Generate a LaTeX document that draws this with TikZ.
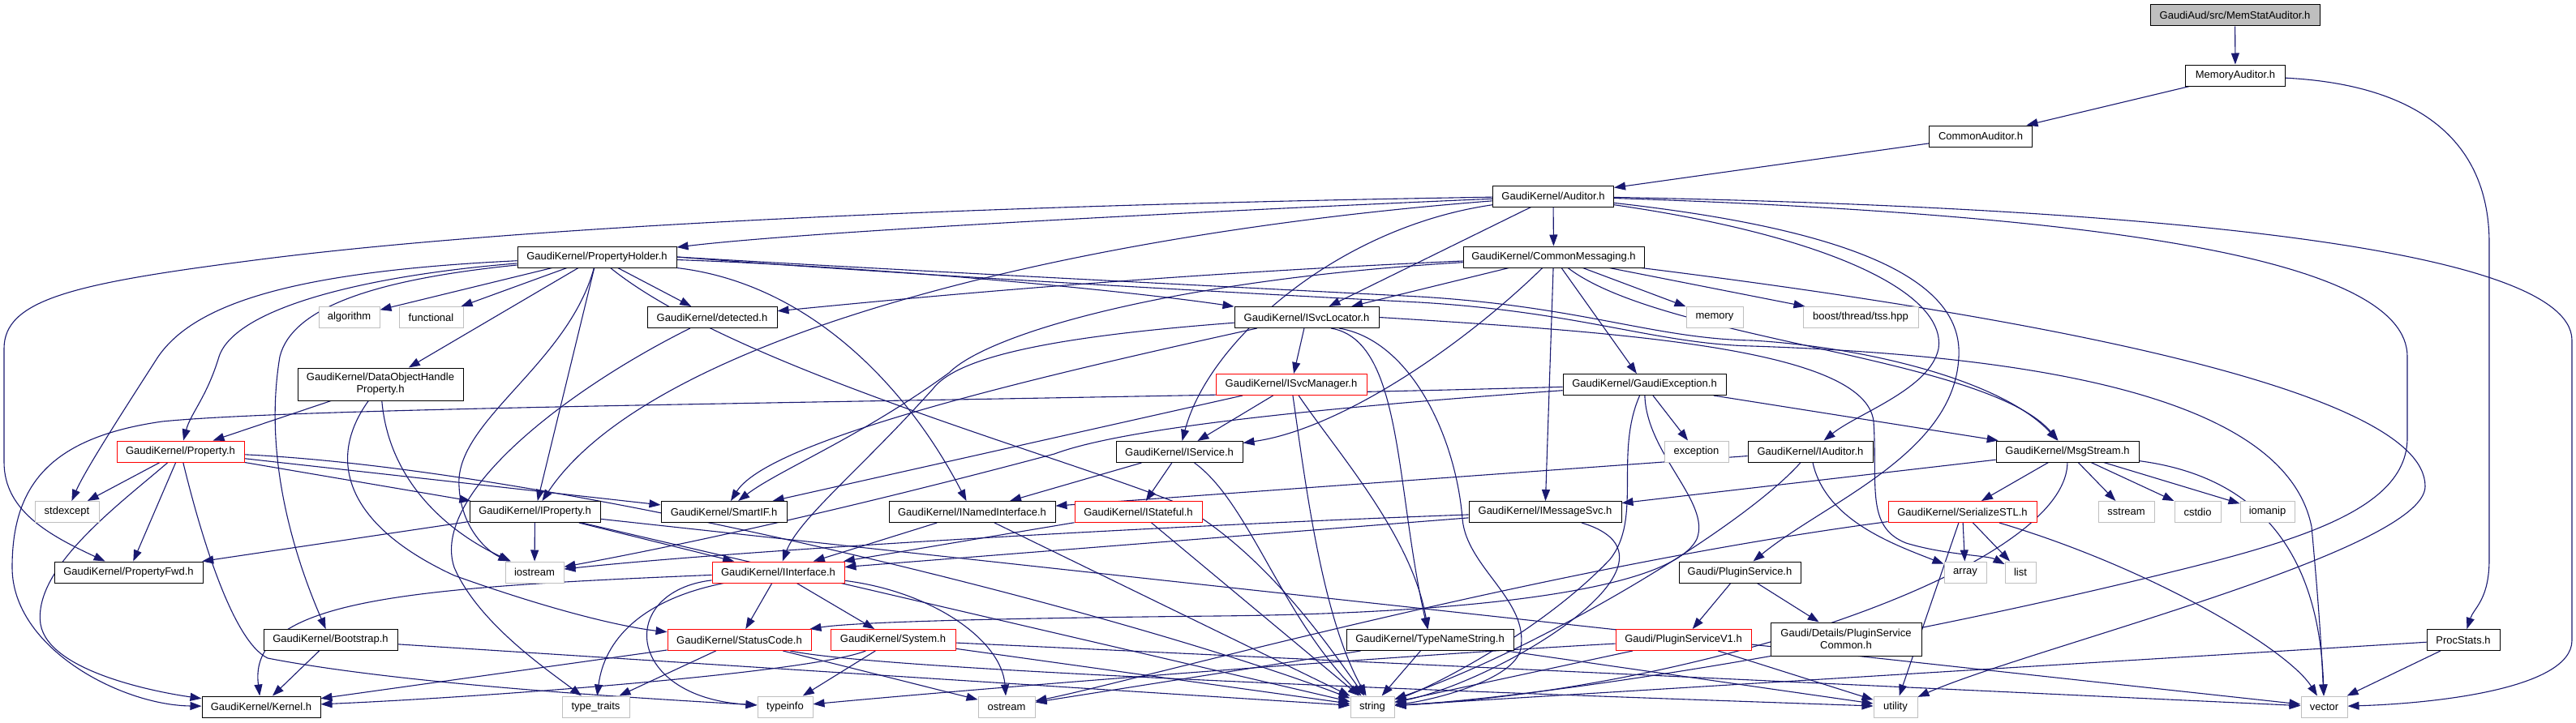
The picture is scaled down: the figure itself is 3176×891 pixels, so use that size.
\documentclass[tikz,border=0pt]{standalone}
\usepackage{fontspec}
\setmainfont{Liberation Sans}
\usetikzlibrary{arrows.meta,backgrounds}
\definecolor{edgec}{HTML}{191970}
\definecolor{graybd}{HTML}{BFBFBF}
\definecolor{redbd}{HTML}{FF0000}
\begin{document}
\begin{tikzpicture}[x=1pt,y=-1pt,
  font=\fontsize{13}{15}\selectfont,
  box/.style={line width=1pt, minimum height=26pt, inner xsep=3pt, inner ysep=2pt, align=center, fill=white},
  bbox/.style={box, draw=black},
  rbox/.style={box, draw=redbd},
  gbox/.style={box, draw=graybd},
  e/.style={draw=edgec, line width=1.1pt, -{Triangle[length=14pt,width=10pt]}}]
\useasboundingbox (0,0) rectangle (3176,891);
% ---------- nodes ----------
\node[bbox, fill=graybd, minimum width=209pt] (memstat) at (2755.5,19) {GaudiAud/src/MemStatAuditor.h};
\node[bbox, minimum width=123pt] (memaud) at (2756,93) {MemoryAuditor.h};
\node[bbox, minimum width=127pt] (comaud) at (2442,168) {CommonAuditor.h};
\node[bbox, minimum width=149pt] (auditor) at (1915,242) {GaudiKernel/Auditor.h};
\node[bbox, minimum width=196pt] (propholder) at (736,317) {GaudiKernel/PropertyHolder.h};
\node[bbox, minimum width=223pt] (commsg) at (1915.5,317) {GaudiKernel/CommonMessaging.h};
\node[gbox, minimum width=75pt] (algorithm) at (430.5,391.5) {algorithm};
\node[gbox, minimum width=79pt] (functional) at (531.5,391.5) {functional};
\node[bbox, minimum width=160pt] (detected) at (878,391.5) {GaudiKernel/detected.h};
\node[bbox, minimum width=178pt] (isvcloc) at (1611,391.5) {GaudiKernel/ISvcLocator.h};
\node[gbox, minimum width=70pt] (memory) at (2114,391.5) {memory};
\node[gbox, minimum width=142pt] (boost) at (2294,391.5) {boost/thread/tss.hpp};
\node[bbox, minimum width=204pt, minimum height=40pt] (dohp) at (469,474) {GaudiKernel/DataObjectHandle\\Property.h};
\node[rbox, minimum width=186pt] (isvcmgr) at (1592,474.5) {GaudiKernel/ISvcManager.h};
\node[bbox, minimum width=201pt] (gexc) at (2027.5,474.5) {GaudiKernel/GaudiException.h};
\node[rbox, minimum width=157pt] (property) at (222.5,557) {GaudiKernel/Property.h};
\node[bbox, minimum width=156pt] (iservice) at (1454,557.5) {GaudiKernel/IService.h};
\node[gbox, minimum width=79pt] (exception) at (2091.5,557) {exception};
\node[bbox, minimum width=154pt] (iauditor) at (2232,557) {GaudiKernel/IAuditor.h};
\node[bbox, minimum width=176pt] (msgstream) at (2549,557) {GaudiKernel/MsgStream.h};
\node[gbox, minimum width=79pt] (stdexcept) at (82.5,631.5) {stdexcept};
\node[bbox, minimum width=161pt] (iproperty) at (659.5,631.5) {GaudiKernel/IProperty.h};
\node[bbox, minimum width=155pt] (smartif) at (892.5,631.5) {GaudiKernel/SmartIF.h};
\node[bbox, minimum width=205pt] (inamed) at (1198.5,631.5) {GaudiKernel/INamedInterface.h};
\node[rbox, minimum width=157pt] (istateful) at (1403.5,631.5) {GaudiKernel/IStateful.h};
\node[bbox, minimum width=188pt] (imsgsvc) at (1905,631.5) {GaudiKernel/IMessageSvc.h};
\node[rbox, minimum width=183pt] (serial) at (2419.5,631.5) {GaudiKernel/SerializeSTL.h};
\node[gbox, minimum width=69pt] (sstream) at (2621.5,631.5) {sstream};
\node[gbox, minimum width=57pt] (cstdio) at (2709.5,631.5) {cstdio};
\node[gbox, minimum width=67pt] (iomanip) at (2795.5,631.5) {iomanip};
\node[bbox, minimum width=183pt] (propfwd) at (158.5,706) {GaudiKernel/PropertyFwd.h};
\node[gbox, minimum width=72pt] (iostream) at (659,706) {iostream};
\node[rbox, minimum width=163pt] (iinterface) at (959.5,706) {GaudiKernel/IInterface.h};
\node[bbox, minimum width=150pt] (pluginsvc) at (2145,706) {Gaudi/PluginService.h};
\node[gbox, minimum width=52pt] (array) at (2423,706) {array};
\node[gbox, minimum width=38pt] (list) at (2491,706) {list};
\node[bbox, minimum width=165pt] (bootstrap) at (407.5,789.5) {GaudiKernel/Bootstrap.h};
\node[rbox, minimum width=177pt] (statuscode) at (911.5,789.5) {GaudiKernel/StatusCode.h};
\node[rbox, minimum width=154pt] (system) at (1101,789.5) {GaudiKernel/System.h};
\node[bbox, minimum width=206pt] (typename) at (1763,789.5) {GaudiKernel/TypeNameString.h};
\node[rbox, minimum width=167pt] (psv1) at (2075.5,789.5) {Gaudi/PluginServiceV1.h};
\node[bbox, minimum width=186pt, minimum height=41pt] (pscommon) at (2276,788.5) {Gaudi/Details/PluginService\\Common.h};
\node[bbox, minimum width=90pt] (procstats) at (3037,789.5) {ProcStats.h};
\node[bbox, minimum width=146pt] (kernel) at (322,872) {GaudiKernel/Kernel.h};
\node[gbox, minimum width=83pt] (typetraits) at (734.5,872) {type\_traits};
\node[gbox, minimum width=68pt] (typeinfo) at (968,872) {typeinfo};
\node[gbox, minimum width=70pt] (ostream) at (1241,872) {ostream};
\node[gbox, minimum width=54pt] (string) at (1692,872) {string};
\node[gbox, minimum width=54pt] (utility) at (2337,872) {utility};
\node[gbox, minimum width=57pt] (vector) at (2865.5,872) {vector};
% ---------- edges ----------
\begin{pgfonlayer}{background}
% top
\draw[e] (memstat) -- (memaud);
\draw[e] (memaud) -- (comaud);
\draw[e] (memaud) .. controls (2990,105) and (3069,180) .. (3069,300) -- (3069,690) .. controls (3069,740) and (3050,750) .. (procstats);
\draw[e] (comaud) -- (auditor);
% Auditor
\draw[e] (auditor) .. controls (1500,260) and (1000,285) .. (propholder);
\draw[e] (auditor) -- (commsg);
\draw[e] (auditor) -- (isvcloc);
\draw[e] (auditor) .. controls (1650,280) and (1490,420) .. (iservice);
\draw[e] (auditor) .. controls (1300,290) and (800,420) .. (iproperty);
\draw[e] (auditor) .. controls (1400,250) and (700,270) .. (306,322) .. controls (90,350) and (5,370) .. (5,430) -- (5,570) .. controls (5,630) and (60,660) .. (propfwd);
\draw[e] (auditor) .. controls (2250,290) and (2400,360) .. (2390,430) .. controls (2380,480) and (2290,510) .. (iauditor);
\draw[e] (auditor) .. controls (2300,285) and (2420,350) .. (2415,440) .. controls (2410,560) and (2250,620) .. (pluginsvc);
\draw[e] (auditor) .. controls (2600,255) and (3171,300) .. (3171,420) -- (3171,790) .. controls (3171,850) and (3000,868) .. (vector);
\draw[e] (auditor) .. controls (2600,265) and (2968,320) .. (2968,440) -- (2968,540) .. controls (2968,620) and (2860,660) .. (2700,700) .. controls (2300,800) and (1900,860) .. (string);
% CommonMessaging
\draw[e] (commsg) .. controls (1400,340) and (1100,370) .. (detected);
\draw[e] (commsg) .. controls (1450,345) and (1220,410) .. (1170,460) .. controls (1060,540) and (960,580) .. (smartif);
\draw[e] (commsg) -- (isvcloc);
\draw[e] (commsg) .. controls (1800,430) and (1650,530) .. (iservice);
\draw[e] (commsg) -- (imsgsvc);
\draw[e] (commsg) -- (gexc);
\draw[e] (commsg) .. controls (2050,420) and (2450,440) .. (msgstream);
\draw[e] (commsg) -- (memory);
\draw[e] (commsg) -- (boost);
\draw[e] (commsg) .. controls (2500,390) and (2990,480) .. (2990,600) .. controls (2990,680) and (2500,800) .. (utility);
% PropertyHolder
\draw[e] (propholder) -- (algorithm);
\draw[e] (propholder) -- (functional);
\draw[e] (propholder) -- (dohp);
\draw[e] (propholder) .. controls (450,340) and (290,380) .. (270,440) .. controls (255,490) and (235,510) .. (property);
\draw[e] (propholder) .. controls (360,335) and (240,375) .. (195,440) .. controls (150,510) and (105,580) .. (stdexcept);
\draw[e] (propholder) .. controls (460,345) and (360,380) .. (345,440) .. controls (325,560) and (360,680) .. (bootstrap);
\draw[e] (propholder) -- (iproperty);
\draw[e] (propholder) .. controls (700,450) and (560,520) .. (566,600) .. controls (568,650) and (600,680) .. (iostream);
\draw[e] (propholder.south east) .. controls (1000,350) and (1120,480) .. (inamed);
\draw[e] (propholder) -- (detected);
\draw[e] (propholder) .. controls (1100,330) and (1400,360) .. (isvcloc);
\draw[e] (propholder.east) .. controls (1100,333) and (1500,353) .. (1750,366) .. controls (1950,378) and (2040,418) .. (2160,420) .. controls (2300,428) and (2470,470) .. (msgstream);
\draw[e] (propholder.east) .. controls (1100,338) and (1500,360) .. (1750,373) .. controls (1950,385) and (2040,424) .. (2160,427) .. controls (2550,440) and (2820,500) .. (2850,650) .. controls (2860,760) and (2862,800) .. (vector);
\draw[e] (propholder) .. controls (900,450) and (1300,560) .. (1450,620) .. controls (1560,680) and (1640,800) .. (string);
% ISvcLocator
\draw[e] (isvcloc) -- (isvcmgr);
\draw[e] ([xshift=30pt]isvcloc.south) .. controls (1730,420) and (1720,600) .. (typename);
\draw[e] ([xshift=40pt]isvcloc.south) .. controls (1740,420) and (1795,540) .. (1803,640) .. controls (1808,700) and (1885,740) .. (1875,800) .. controls (1868,840) and (1760,865) .. (string);
\draw[e] (isvcloc) .. controls (1300,460) and (950,540) .. (smartif);
\draw[e] (isvcloc) .. controls (1300,415) and (1180,440) .. (1150,480) .. controls (1060,580) and (985,640) .. (iinterface);
\draw[e] (isvcloc.east) .. controls (2000,410) and (2300,430) .. (2310,520) .. controls (2315,600) and (2300,650) .. (2350,670) .. controls (2400,685) and (2450,685) .. (list);
% ISvcManager
\draw[e] (isvcmgr) -- (iservice);
\draw[e] (isvcmgr) -- (smartif);
\draw[e] (isvcmgr) .. controls (1650,560) and (1740,660) .. (typename);
\draw[e] (isvcmgr) .. controls (1610,600) and (1630,760) .. (string);
% IService
\draw[e] (iservice) -- (inamed);
\draw[e] (iservice) -- (istateful);
\draw[e] (iservice) .. controls (1540,620) and (1580,760) .. (string);
% INamedInterface, IStateful
\draw[e] (inamed) -- (iinterface);
\draw[e] (inamed) -- (string);
\draw[e] (istateful) -- (iinterface);
\draw[e] (istateful) -- (string);
% IProperty
\draw[e] (iproperty) -- (iinterface);
\draw[e] (iproperty) -- (propfwd);
\draw[e] (iproperty) -- (iostream);
\draw[e] (iproperty) -- (string);
\draw[e] (iproperty) -- (vector);
% Property
\draw[e] (property) -- (stdexcept);
\draw[e] (property) -- (propfwd);
\draw[e] (property) -- (iproperty);
\draw[e] (property) -- (smartif);
\draw[e] (property) .. controls (700,580) and (1400,760) .. (string);
\draw[e] (property) .. controls (150,620) and (40,700) .. (50,770) .. controls (60,830) and (200,855) .. (kernel);
\draw[e] (property) .. controls (245,650) and (285,790) .. (330,812) .. controls (500,845) and (800,862) .. (typeinfo);
% DataObjectHandleProperty
\draw[e] (dohp) -- (property);
\draw[e] (dohp) .. controls (400,570) and (430,650) .. (560,710) .. controls (700,760) and (780,775) .. (statuscode);
\draw[e] (dohp) .. controls (480,600) and (560,660) .. (iostream);
% detected
\draw[e] (detected) .. controls (700,480) and (530,610) .. (560,700) .. controls (590,770) and (680,830) .. (typetraits);
% GaudiException
\draw[e] (gexc) .. controls (1300,495) and (400,500) .. (200,520) .. controls (60,540) and (15,600) .. (15,700) .. controls (15,800) and (150,870) .. (kernel);
\draw[e] (gexc) .. controls (1600,505) and (1380,530) .. (1300,560) .. controls (1000,640) and (800,680) .. (iostream);
\draw[e] (gexc) -- (exception);
\draw[e] (gexc) -- (msgstream);
\draw[e] (gexc) .. controls (2030,560) and (2110,620) .. (2092,665) .. controls (2060,730) and (1800,757) .. (1500,760) .. controls (1200,763) and (1050,768) .. (statuscode);
\draw[e] (gexc) .. controls (1990,560) and (2025,640) .. (1985,690) .. controls (1900,780) and (1760,850) .. (string);
% IMessageSvc
\draw[e] (imsgsvc) -- (iinterface);
\draw[e] (imsgsvc) .. controls (1400,650) and (900,680) .. (iostream);
\draw[e] (imsgsvc) .. controls (2100,690) and (1850,840) .. (string);
% IAuditor
\draw[e] (iauditor) -- (inamed);
\draw[e] (iauditor) .. controls (2250,640) and (2330,670) .. (array);
\draw[e] (iauditor) .. controls (2150,650) and (1900,800) .. (string);
% MsgStream
\draw[e] (msgstream) -- (imsgsvc);
\draw[e] (msgstream) -- (serial);
\draw[e] (msgstream) -- (sstream);
\draw[e] (msgstream) -- (cstdio);
\draw[e] (msgstream) -- (iomanip);
\draw[e] (msgstream) .. controls (2548,700) and (2100,850) .. (string);
\draw[e] (msgstream) .. controls (2800,590) and (2860,700) .. (vector);
% SerializeSTL
\draw[e] (serial) -- (array);
\draw[e] (serial) -- (list);
\draw[e] (serial) -- (utility);
\draw[e] (serial) .. controls (2650,700) and (2820,800) .. (vector);
\draw[e] (serial) .. controls (1900,700) and (1400,840) .. (ostream);
% IInterface
\draw[e] (iinterface) -- (statuscode);
\draw[e] (iinterface) -- (system);
\draw[e] (iinterface) .. controls (500,725) and (305,740) .. (kernel);
\draw[e] (iinterface) .. controls (760,730) and (770,860) .. (typeinfo);
\draw[e] (iinterface) .. controls (790,740) and (745,790) .. (typetraits);
\draw[e] (iinterface) .. controls (1150,730) and (1235,790) .. (ostream);
% StatusCode
\draw[e] (statuscode) -- (kernel);
\draw[e] (statuscode) -- (ostream);
\draw[e] (statuscode) -- (typetraits);
\draw[e] (statuscode) .. controls (1100,830) and (2000,860) .. (utility);
% System
\draw[e] (system) .. controls (1000,830) and (600,860) .. (kernel);
\draw[e] (system) -- (typeinfo);
\draw[e] (system) -- (string);
\draw[e] (system) -- (vector);
% Bootstrap
\draw[e] (bootstrap) -- (kernel);
\draw[e] (bootstrap) -- (string);
% TypeNameString
\draw[e] (typename) -- (string);
\draw[e] (typename) -- (ostream);
\draw[e] (typename) -- (utility);
% PluginService
\draw[e] (pluginsvc) -- (psv1);
\draw[e] (pluginsvc) -- (pscommon);
\draw[e] (psv1) -- (string);
\draw[e] (psv1) -- (utility);
\draw[e] (psv1) .. controls (1700,810) and (1200,850) .. (typeinfo);
% ProcStats
\draw[e] (procstats) -- (string);
\draw[e] (procstats) -- (vector);
\end{pgfonlayer}
\end{tikzpicture}
\end{document}
